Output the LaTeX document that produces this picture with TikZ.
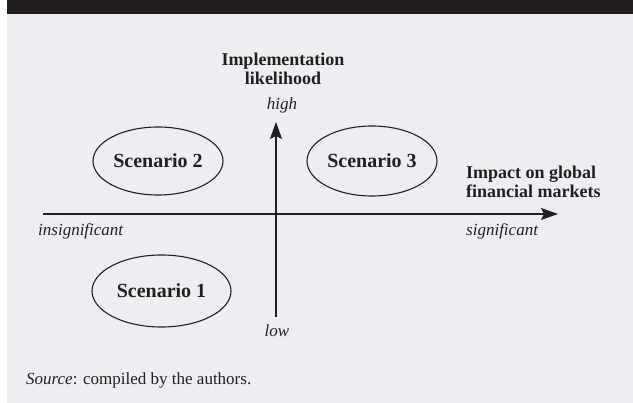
\documentclass[tikz,border=0pt]{standalone}
\usepackage{fontspec}
\setmainfont{Liberation Serif}
\usetikzlibrary{shapes.geometric,arrows.meta}

\definecolor{barcol}{HTML}{231F20}
\definecolor{panel}{HTML}{EDEEF2}
\definecolor{ink}{HTML}{231F20}

\tikzset{
  axis/.style={draw=ink, line width=1.4pt, -{Stealth[length=17pt,width=12pt,inset=3pt]}},
  scen/.style={ellipse, draw=ink, line width=1.1pt, inner sep=0pt, text=ink,
               font=\fontsize{20}{22}\selectfont\bfseries},
  axtitle/.style={text=ink, align=center, inner sep=0pt,
                  font=\fontsize{18}{18.5}\selectfont\bfseries},
  axend/.style={text=ink, inner sep=0pt, font=\fontsize{17}{19}\selectfont\itshape},
  note/.style={text=ink, inner sep=0pt, font=\fontsize{17}{19}\selectfont}
}

\begin{document}
\begin{tikzpicture}[x=1pt, y=-1pt]
  \useasboundingbox (0,0) rectangle (633,403);
  % panel and header bar
  \fill[panel] (7,0) rectangle (633,403);
  \fill[barcol] (7,0) rectangle (633,14);

  % axes
  \coordinate (xl) at (43,214);
  \coordinate (xr) at (558,214);
  \coordinate (yb) at (276,317);
  \coordinate (yt) at (276,122);
  \draw[axis] (xl) -- (xr);
  \draw[axis] (yb) -- (yt);

  % axis titles
  \node[axtitle] (ytitle) at (283,69) {Implementation\\likelihood};
  \node[axtitle, align=left, anchor=west] (xtitle) at (466,182) {Impact on global\\financial markets};

  % axis end labels
  \node[axend] (high) at (282,105) {high};
  \node[axend] (low) at (277,331) {low};
  \node[axend, anchor=west] (insig) at (38,231) {insignificant};
  \node[axend, anchor=west] (sig) at (466,231) {significant};

  % scenarios
  \node[scen, minimum width=130pt, minimum height=68pt] (s2) at (158,161) {Scenario 2};
  \node[scen, minimum width=130pt, minimum height=70pt] (s3) at (372,161) {Scenario 3};
  \node[scen, minimum width=139pt, minimum height=72pt] (s1) at (161.5,291) {Scenario 1};

  % source line
  \node[note, anchor=west] (src) at (26,380) {\textit{Source}: compiled by the authors.};
\end{tikzpicture}
\end{document}
